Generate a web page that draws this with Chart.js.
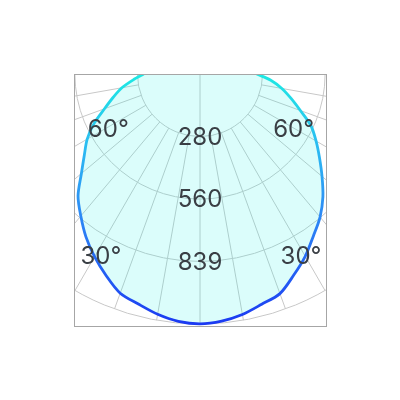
<!DOCTYPE html>
<html>
<head>
<meta charset="utf-8">
<script src="https://cdn.jsdelivr.net/npm/chart.js@4/dist/chart.umd.min.js"></script>
<style>
  html, body { margin: 0; padding: 0; background: #fff; }
  #page { position: relative; width: 400px; height: 400px; }
  #box {
    position: absolute; left: 74px; top: 74px;
    width: 251px; height: 251px;
    border: 1px solid #a6a6a6;
  }
  #clip { position: absolute; left: 0; top: 0; width: 251px; height: 251px; overflow: hidden; }
  #chart { position: absolute; left: -135px; top: -261px; width: 520px; height: 520px; }
</style>
</head>
<body>
<div id="page">
  <div id="box">
    <div id="clip">
      <canvas id="chart" width="520" height="520"></canvas>
    </div>
  </div>
</div>
<script>
// ================= DATA =================
// gamma angle from nadir, 5 degree steps round the full circle
const circleLabels = [
  0, 5, 10, 15, 20, 25, 30, 35, 40, 45, 50, 55, 60, 65, 70, 75, 80, 85,
  90, 95, 100, 105, 110, 115, 120, 125, 130, 135, 140, 145, 150, 155, 160, 165,
  170, 175, 180, 185, 190, 195, 200, 205, 210, 215, 220, 225, 230, 235, 240, 245,
  250, 255, 260, 265, 270, 275, 280, 285, 290, 295, 300, 305, 310, 315, 320, 325,
  330, 335, 340, 345, 350, 355
];

// intensity (cd), gamma 0..90
const leftCd = [1118, 1111, 1092, 1066, 1044, 995, 944, 890, 830, 772, 693, 632, 583, 523, 455, 402, 355, 300, 252];
const rightCd = [1118, 1110, 1093, 1067, 1046, 993, 942, 885, 836, 778, 713, 653, 600, 548, 478, 422, 372, 318, 254];

// ring values and their labels
const ringValues = [0, 280, 560, 839, 1119];
const ringLabels = ["", "280", "560", "839", ""];

// angle marks
const rayAngles = [10, 20, 30, 40, 50, 60, 70, 80];
const angleMarks = [60, 30];

// build the full circle: left half, nothing above, right half
const intensity = circleLabels.map((a) => {
  if (a <= 90) return leftCd[a / 5];
  if (a >= 270) return rightCd[(360 - a) / 5];
  return null;
});

const GRID = "#c8c8c8";
const TEXT = "#3a3f45";

// ================= GRID + LABELS PLUGIN =================
const polarExtras = {
  id: "polarExtras",
  beforeDatasetsDraw(chart) {
    const r = chart.scales.r;
    const ctx = chart.ctx;
    const inner = r.getDistanceFromCenterForValue(ringValues[1]);
    const outer = r.getDistanceFromCenterForValue(ringValues[ringValues.length - 1]);
    const n = circleLabels.length;

    ctx.save();
    ctx.strokeStyle = GRID;
    ctx.lineWidth = 1;

    // nadir line from the centre
    const p0 = r.getPointPosition(0, outer);
    ctx.beginPath();
    ctx.moveTo(r.xCenter, r.yCenter);
    ctx.lineTo(p0.x, p0.y);
    ctx.stroke();

    // other rays start at the first ring
    rayAngles.forEach((a) => {
      [a / 5, n - a / 5].forEach((idx) => {
        const s = r.getPointPosition(idx, inner);
        const e = r.getPointPosition(idx, outer);
        ctx.beginPath();
        ctx.moveTo(s.x, s.y);
        ctx.lineTo(e.x, e.y);
        ctx.stroke();
      });
    });
    ctx.restore();
  },
  afterDatasetsDraw(chart) {
    const r = chart.scales.r;
    const ctx = chart.ctx;
    ctx.save();
    ctx.fillStyle = TEXT;
    ctx.font = "24px Inter";
    ctx.textAlign = "center";
    ctx.textBaseline = "middle";

    ringValues.forEach((v, i) => {
      if (!ringLabels[i]) return;
      const p = r.getPointPositionForValue(0, v);
      ctx.fillText(ringLabels[i], p.x, p.y + 1);
    });

    // angle labels sit inside the box
    const spots = { 60: [58.5, 0.43], 30: [28.5, 0.83] };
    angleMarks.forEach((a) => {
      const [deg, f] = spots[a];
      const rad = deg * Math.PI / 180;
      const d = r.drawingArea * f;
      const dy = Math.cos(rad) * d;
      const dx = Math.sin(rad) * d;
      ctx.fillText(a + "°", r.xCenter - dx, r.yCenter + dy);
      ctx.fillText(a + "°", r.xCenter + dx + 2, r.yCenter + dy);
    });
    ctx.restore();
  }
};

// ================= LINE GRADIENT =================
let lineGradient = null;
function curveColor(context) {
  const chart = context.chart;
  const r = chart.scales.r;
  if (!r || !chart.chartArea) return "#2a7df5";
  if (!lineGradient) {
    const g = chart.ctx.createLinearGradient(0, r.yCenter, 0, r.yCenter + r.drawingArea);
    g.addColorStop(0, "#1ee9e3");
    g.addColorStop(0.3, "#2bbaf2");
    g.addColorStop(0.55, "#2d8cf5");
    g.addColorStop(1, "#1b3af2");
    lineGradient = g;
  }
  return lineGradient;
}

// ================= CREATE CHART =================
new Chart(document.getElementById("chart").getContext("2d"), {
  type: "radar",
  data: {
    labels: circleLabels,
    datasets: [
      {
        label: "Intensity",
        data: intensity,
        borderColor: curveColor,
        borderWidth: 2.8,
        backgroundColor: "rgba(30,240,230,0.16)",
        fill: "origin",
        pointRadius: 0,
        pointHoverRadius: 0,
        tension: 0.3,
        spanGaps: false
      }
    ]
  },
  options: {
    responsive: false,
    animation: false,
    devicePixelRatio: 1,
    layout: { padding: 10 },
    plugins: {
      legend: { display: false },
      tooltip: { enabled: false }
    },
    scales: {
      r: {
        min: 0,
        max: 1119,
        startAngle: 180,
        afterBuildTicks: (scale) => {
          scale.ticks = ringValues.map((v) => ({ value: v }));
        },
        ticks: { display: false },
        pointLabels: { display: false },
        angleLines: { display: false },
        grid: { circular: true, color: GRID, lineWidth: 1 }
      }
    }
  },
  plugins: [polarExtras]
});
</script>
</body>
</html>
